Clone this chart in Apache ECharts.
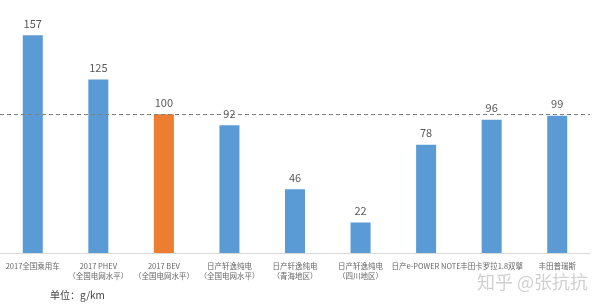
<!DOCTYPE html>
<html><head><meta charset="utf-8">
<script src="https://cdn.jsdelivr.net/npm/echarts@6/dist/echarts.min.js"></script>
<style>html,body{margin:0;padding:0;background:#fff}#c{width:600px;height:304px}</style>
</head><body><div id="c"></div>
<script>
const categories = ["2017全国乘用车","2017 PHEV\n（全国电网水平）","2017 BEV\n（全国电网水平）","日产轩逸纯电\n（全国电网水平）","日产轩逸纯电\n（青海地区）","日产轩逸纯电\n（四川地区）","日产e-POWER NOTE","丰田卡罗拉1.8双擎","丰田普瑞斯"];
const values = [157,125,100,92,46,22,78,96,99];
const highlightIndex = 2;
const referenceValue = 100;
const unitText = "单位：g/km";
const watermark = "知乎 @张抗抗";

const chart = echarts.init(document.getElementById('c'), null, {renderer:'canvas'});
chart.setOption({
  animation:false,
  textStyle:{fontFamily:'"Noto Sans CJK SC","Open Sans",sans-serif'},
  title:[
    {text:unitText,left:45,top:285,textStyle:{fontSize:10,fontWeight:'normal',color:'#404040'}},
    {text:watermark,left:472,top:268,textStyle:{fontSize:18,fontWeight:'normal',color:'#d0d0d0'}}
  ],
  grid:{left:0,right:10,top:31,bottom:51},
  xAxis:{type:'category',data:categories,
    axisLine:{lineStyle:{color:'#d9d9d9'}},axisTick:{show:false},
    axisLabel:{interval:0,fontSize:7.5,color:'#666666',margin:8,lineHeight:10}},
  yAxis:{type:'value',min:0,max:160,show:false,splitLine:{show:false}},
  series:[{type:'bar',barWidth:20,
    data:values.map((v,i)=>({value:v,itemStyle:{color:i===highlightIndex?'#ed7d31':'#5b9bd5'}})),
    label:{show:true,position:'top',distance:6,fontSize:11,color:'#595959'},
    markLine:{symbol:'none',silent:true,label:{show:false},
      lineStyle:{type:[4,3],color:'#7f7f7f',width:1},
      data:[{yAxis:referenceValue}]}
  }]
});
</script></body></html>
